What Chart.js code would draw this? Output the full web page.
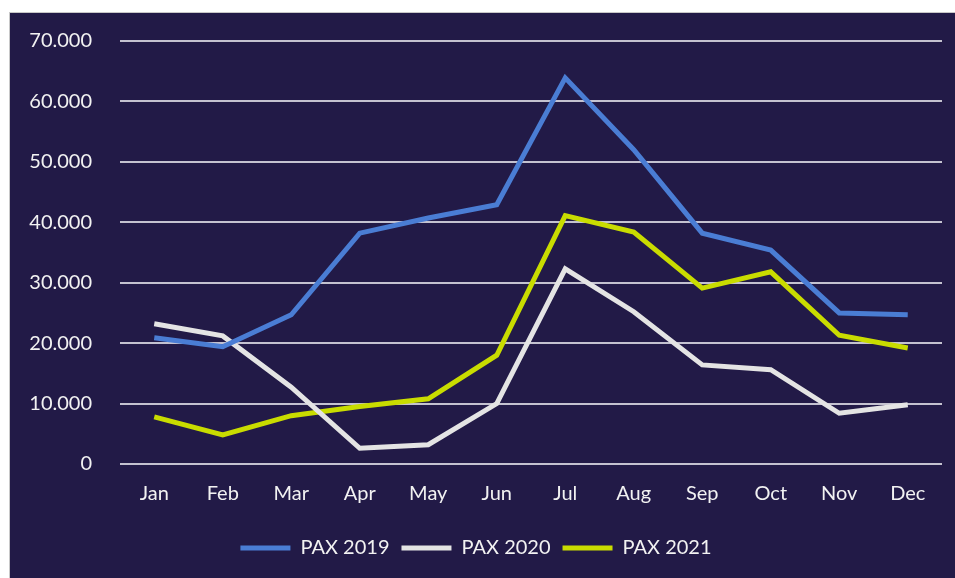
<!DOCTYPE html>
<html>
<head>
<meta charset="utf-8">
<script src="https://cdn.jsdelivr.net/npm/chart.js@4/dist/chart.umd.min.js"></script>
<style>
    html, body { margin: 0; padding: 0; background: #ffffff; }
    .wrap {
        position: absolute;
        left: 9px;
        top: 12px;
        width: 946px;
        height: 566px;
        background: #221a47;
        border-left: 1px solid #c8c8c8;
        border-top: 1px solid #c8c8c8;
        box-sizing: border-box;
    }
</style>
</head>
<body>
<div class="wrap">
    <canvas id="chart"></canvas>
</div>
<script>
const months = ["Jan", "Feb", "Mar", "Apr", "May", "Jun", "Jul", "Aug", "Sep", "Oct", "Nov", "Dec"]
const pax2019 = [20900, 19400, 24700, 38200, 40700, 42900, 63900, 52000, 38200, 35400, 25000, 24700]
const pax2020 = [23200, 21200, 12700, 2600, 3200, 10000, 32300, 25200, 16400, 15600, 8400, 9800]
const pax2021 = [7800, 4800, 8000, 9500, 10800, 18000, 41100, 38400, 29100, 31800, 21300, 19200]
const yTicks = [0, 10000, 20000, 30000, 40000, 50000, 60000, 70000]

const fmt = (v) => String(v).replace(/\B(?=(\d{3})+(?!\d))/g, ".")

const line = (label, data, color) => ({
    label,
    data,
    borderColor: color,
    backgroundColor: color,
    borderWidth: 5,
    pointRadius: 0,
    pointHoverRadius: 0,
    tension: 0,
    pointStyle: "line",
})

new Chart(document.getElementById("chart"), {
    type: "line",
    data: {
        labels: months,
        datasets: [
            line("PAX 2019", pax2019, "#4a7dd4"),
            line("PAX 2020", pax2020, "#e4e4e4"),
            line("PAX 2021", pax2021, "#c9dc00"),
        ],
    },
    options: {
        responsive: true,
        maintainAspectRatio: false,
        animation: false,
        layout: {
            padding: { top: 28, right: 13, bottom: 10, left: 0 },
        },
        plugins: {
            tooltip: { enabled: false },
            legend: {
                position: "bottom",
                labels: {
                    usePointStyle: true,
                    pointStyleWidth: 50,
                    padding: 12,
                    color: "#f2f2f2",
                    font: { family: "Lato", size: 20 },
                },
            },
        },
        scales: {
            x: {
                offset: true,
                grid: { display: false },
                border: { display: false },
                ticks: {
                    color: "#f2f2f2",
                    padding: 10,
                    font: { family: "Lato", size: 20 },
                },
                afterFit: (scale) => {
                    scale.height = 62
                },
            },
            y: {
                min: 0,
                max: 70000,
                afterBuildTicks: (scale) => {
                    scale.ticks = yTicks.map((value) => ({ value }))
                },
                grid: {
                    color: "#c4c2d0",
                    lineWidth: 2,
                    drawTicks: true,
                    tickLength: 28,
                    tickColor: "transparent",
                },
                border: { display: false },
                ticks: {
                    color: "#f2f2f2",
                    padding: 0,
                    font: { family: "Lato", size: 20 },
                    callback: (value) => fmt(value),
                },
                afterFit: (scale) => {
                    scale.width = 110
                },
            },
        },
    },
})
</script>
</body>
</html>
